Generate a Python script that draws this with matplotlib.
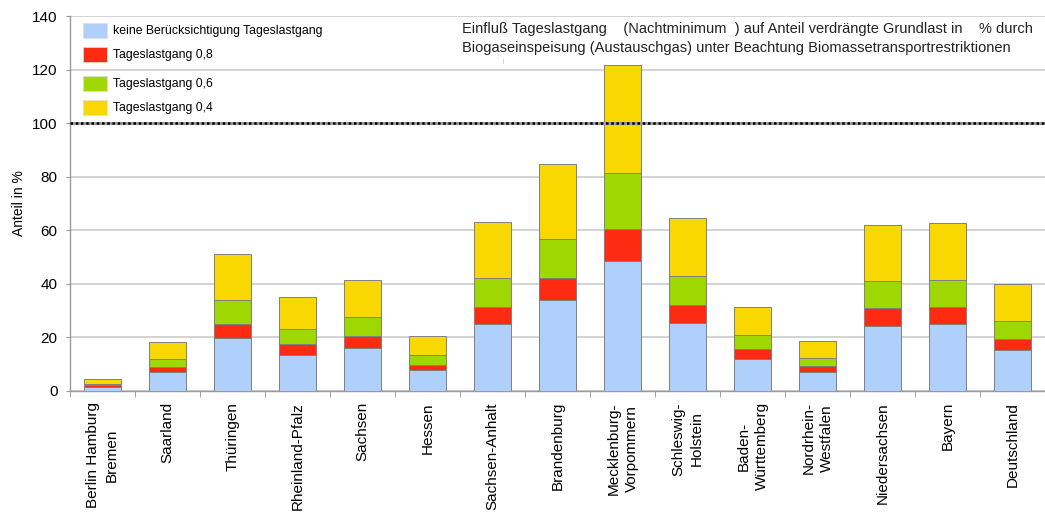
import numpy as np
import matplotlib
matplotlib.use('Agg')
import matplotlib.pyplot as plt
from matplotlib.patches import Patch

plt.rcParams['font.family'] = ['Liberation Sans', 'DejaVu Sans']

# Bundeslaender
laender = ['Berlin Hamburg\nBremen', 'Saarland', 'Thüringen', 'Rheinland-Pfalz',
           'Sachsen', 'Hessen', 'Sachsen-Anhalt', 'Brandenburg',
           'Mecklenburg-\nVorpommern', 'Schleswig-\nHolstein', 'Baden-\nWürttemberg',
           'Nordrhein-\nWestfalen', 'Niedersachsen', 'Bayern', 'Deutschland']

# stacked segments, Anteil in %
keine = [1.6, 7.2, 19.9, 13.4, 15.9, 7.8, 24.9, 34.0, 48.5, 25.4, 12.1, 7.1, 24.4, 24.9, 15.3]
tlg_08 = [0.6, 1.9, 5.2, 4.1, 4.7, 1.9, 6.6, 8.2, 12.0, 6.6, 3.5, 2.1, 6.5, 6.5, 4.0]
tlg_06 = [0.6, 2.8, 8.9, 5.8, 7.0, 3.9, 10.8, 14.6, 20.8, 10.9, 5.2, 3.1, 10.0, 10.0, 6.9]
tlg_04 = [1.5, 6.3, 17.0, 11.8, 14.0, 7.0, 20.8, 27.9, 40.4, 21.6, 10.6, 6.4, 21.2, 21.2, 13.6]

series = [
    ('keine Berücksichtigung Tageslastgang', keine, '#aed0fb'),
    ('Tageslastgang 0,8', tlg_08, '#ff2a12'),
    ('Tageslastgang 0,6', tlg_06, '#9fd800'),
    ('Tageslastgang 0,4', tlg_04, '#f8d800'),
]

grenze = 100

fig = plt.figure(figsize=(10.45, 5.14), dpi=100)
ax = fig.add_axes([70 / 1045, 1 - 391 / 514, 1 - 70 / 1045, (391 - 16) / 514])

x = np.arange(len(laender))
bottom = np.zeros(len(laender))
for label, vals, col in series:
    ax.bar(x, vals, width=0.58, bottom=bottom, color=col, edgecolor='#808080',
           linewidth=0.7, zorder=3, label=label)
    bottom += np.array(vals)

# 100 % line
ax.axhline(grenze, color='#9a9a9a', linewidth=2.2, zorder=4)
ax.axhline(grenze, color='black', linewidth=1.8, linestyle=(0, (1, 1.1)), zorder=5)

ax.set_xlim(-0.5, -0.5 + 975 / 65.5)
ax.set_ylim(0, 140)
ax.set_yticks(np.arange(0, 141, 20))
ax.yaxis.grid(True, color='#c8c8c8', linewidth=1.1, zorder=0)
ax.set_axisbelow(True)

ax.set_xticks(x)
ax.set_xticklabels(laender, rotation=90, fontsize=11, linespacing=1.4)
ax.set_xticks(np.arange(-0.5, len(laender), 1.0), minor=True)
ax.tick_params(axis='x', which='major', length=0, pad=8)
ax.tick_params(axis='x', which='minor', length=4, color='#999999', direction='out')
ax.tick_params(axis='y', length=3, color='#999999', labelsize=11, pad=6)

for s in ['top', 'right']:
    ax.spines[s].set_visible(False)
for s in ['left', 'bottom']:
    ax.spines[s].set_color('#999999')
    ax.spines[s].set_linewidth(1.0)

ax.set_ylabel('Anteil in %', fontsize=10, labelpad=4)

handles = [Patch(facecolor=c, edgecolor='#dddddd', linewidth=0.5) for _, _, c in series]
labels = [l for l, _, _ in series]
leg_kw = dict(frameon=False, fontsize=8.8, handlelength=1.95, handleheight=1.5,
              handletextpad=0.5, labelspacing=0.72, borderpad=0, borderaxespad=0,
              loc='upper left', bbox_transform=fig.transFigure)
leg1 = ax.legend(handles[:2], labels[:2], bbox_to_anchor=(83 / 1045, 1 - 23 / 514), **leg_kw)
ax.add_artist(leg1)
ax.legend(handles[2:], labels[2:], bbox_to_anchor=(83 / 1045, 1 - 76 / 514), **leg_kw)

fig.text(462 / 1045, 1 - 29 / 514,
         'Einfluß Tageslastgang    (Nachtminimum  ) auf Anteil verdrängte Grundlast in    % durch',
         fontsize=10.5, va='center', ha='left', color='#222222')
fig.text(462 / 1045, 1 - 48 / 514,
         'Biogaseinspeisung (Austauschgas) unter Beachtung Biomassetransportrestriktionen',
         fontsize=10.5, va='center', ha='left', color='#222222')
fig.text(503 / 1045, 1 - 62 / 514, '|', fontsize=4, color='#aaaaaa', ha='center', va='center')

fig.savefig('out.png', dpi=100)
